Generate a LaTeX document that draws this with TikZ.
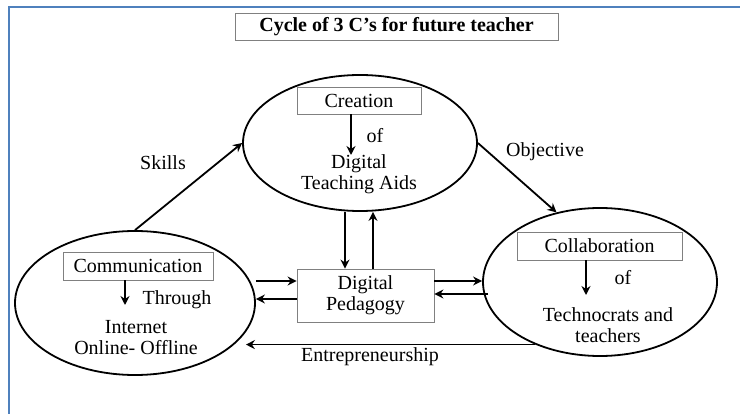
\documentclass[tikz,border=0pt]{standalone}
\usepackage{fontspec}
\setmainfont{Liberation Serif}
\usetikzlibrary{shapes.geometric,arrows.meta}
\definecolor{frameblue}{RGB}{79,129,189}

\begin{document}
\begin{tikzpicture} [x=1pt,y=-1pt,>={Stealth[length=9pt,width=9pt,inset=3pt]},every node/.style={align=center,inner sep=0pt,font=\fontsize{20}{21}\selectfont},
	cee/.style={draw,ellipse,line width=1.8pt},
	lbox/.style={draw=gray,line width=0.8pt},
	link/.style={->,line width=1.8pt}]
		\useasboundingbox (0,0) rectangle (740,414);
		\draw[frameblue,line width=1.6pt] (9,414) -- (9,7) -- (740,7);
		\node[lbox,minimum width=323pt,minimum height=27pt,font=\bfseries\fontsize{20}{21}\selectfont] (title) at (396.5,26.5) {Cycle of 3 C’s for future teacher};

		\node[cee,minimum width=234pt,minimum height=136pt] (creation) at (360,143) {};
		\node[lbox,minimum width=124pt,minimum height=27pt] (creabox) at (359,100.5) {Creation};
		\node (creaof) at (375,136) {of};
		\node (creatext) at (359,174) {Digital\\Teaching Aids};
		\coordinate (creaend) at (351,155);

		\node[cee,minimum width=240pt,minimum height=144pt] (comm) at (135,303) {};
		\node[lbox,minimum width=150pt,minimum height=28pt] (commbox) at (138,266) {Communication};
		\node (commvia) at (177,300) {Through};
		\node (commtext) at (136,338) {Internet\\Online- Offline};
		\coordinate (commend) at (125,305);

		\node[cee,minimum width=234pt,minimum height=148pt] (collab) at (600,282) {};
		\node[lbox,minimum width=165pt,minimum height=28pt] (collbox) at (599.5,246) {Collaboration};
		\node (collof) at (623,278) {of};
		\node (colltext) at (608,325) {Technocrats and\\teachers};
		\coordinate (collend) at (586,295);

		\node[lbox,minimum width=137pt,minimum height=53pt] (dp) at (365.5,295.5) {Digital\\Pedagogy};

		\node (skills) at (163,163) {Skills};
		\node (objective) at (545,152) {Objective};
		\node (entre) at (370,357) {Entrepreneurship};

		\draw[link] (creabox.south -| creaend) -- (creaend);
		\draw[link] (commbox.south -| commend) -- (commend);
		\draw[link] (collbox.south -| collend) -- (collend);

		\draw[link] (comm.north) -- (creation.west);
		\draw[link] (creation.east) -- (collab.122);
		\draw[link] ([xshift=-15pt]creation.south) -- ([xshift=-15pt]creation.south |- dp.north);
		\draw[link] ([xshift=13pt]creation.south |- dp.north) -- ([xshift=13pt]creation.south);
		\draw[link] ([yshift=14.5pt]dp.west -| comm.east) -- ([yshift=14.5pt]dp.west);
		\draw[link] ([yshift=-3.5pt]dp.west) -- ([yshift=-3.5pt]dp.west -| comm.east);
		\draw[link] ([yshift=14.5pt]dp.east) -- ([yshift=14.5pt]dp.east -| collab.west);
		\draw[link] ([yshift=1.5pt,xshift=6pt]dp.east -| collab.west) -- ([yshift=1.5pt]dp.east);
		\draw[link] (collab.224) -- ([xshift=-10pt]collab.224 -| comm.east);
\end{tikzpicture}
\end{document}
